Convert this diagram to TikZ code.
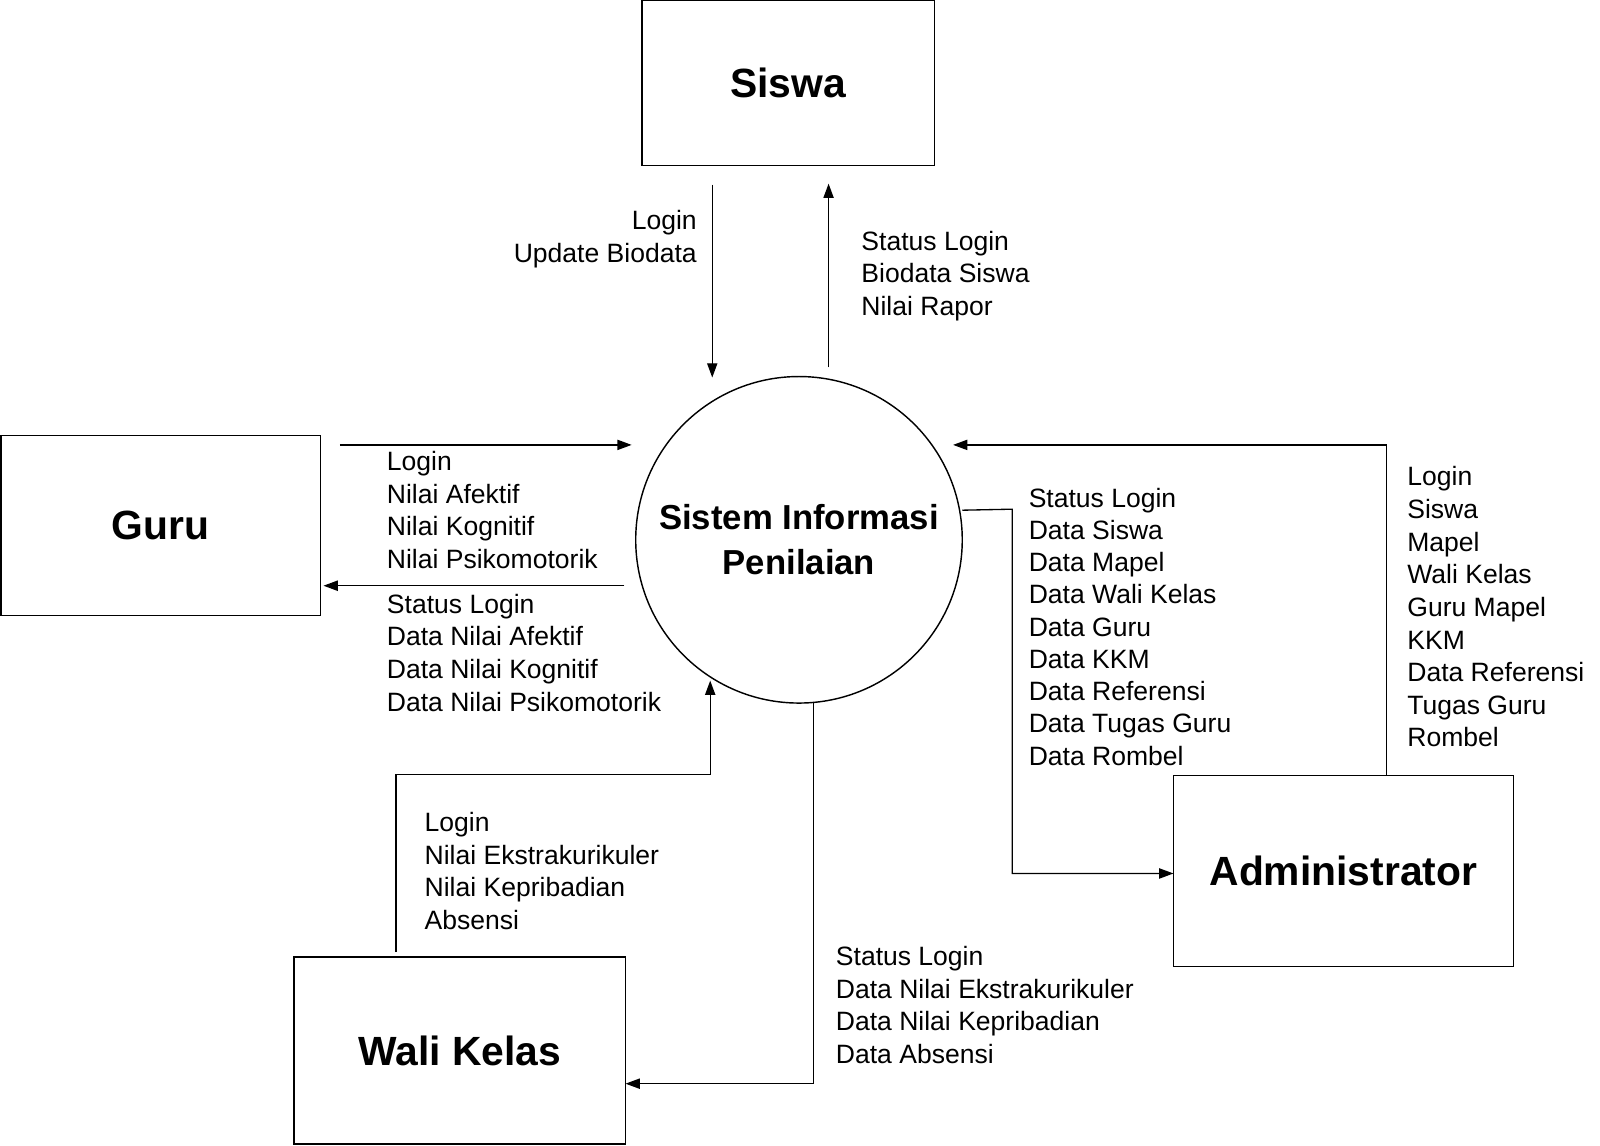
\documentclass[tikz,border=0pt]{standalone}
\usepackage{fontspec}
\setmainfont{Liberation Sans}
\usetikzlibrary{arrows.meta}
\begin{document}
\begin{tikzpicture}[x=1pt,y=-1pt,
  ent/.style={draw,line width=1.4pt,inner sep=0,font=\fontsize{40}{44}\selectfont\bfseries},
  lbl/.style={inner sep=0,align=left,font=\fontsize{26}{32}\selectfont},
  lblr/.style={inner sep=0,align=right,font=\fontsize{26}{32}\selectfont},
  flow/.style={line width=1.3pt,-{Triangle[length=14pt,width=10pt]}}]
\useasboundingbox (0,0) rectangle (1568,1123);
\node[ent,minimum width=287,minimum height=162] (siswa) at (772.5,81) {Siswa};
\node[ent,minimum width=313,minimum height=176] (guru) at (157.5,515) {Guru};
\node[ent,minimum width=325,minimum height=183] (wali) at (450.5,1029.5) {Wali Kelas};
\node[ent,minimum width=333,minimum height=187] (admin) at (1316.5,853.5) {Administrator};
\node[draw,circle,line width=1.4pt,minimum size=320,inner sep=0,align=center,
  font=\fontsize{34}{44}\selectfont\bfseries] (sip) at (783,529) {Sistem Informasi\\Penilaian};

\coordinate (a1) at (698,181); \coordinate (a2) at (698,370);
\draw[flow] (a1) -- (a2);
\node[lblr,anchor=north east] (t1) at (683,206) {Login\\Update Biodata};

\coordinate (b1) at (812,360); \coordinate (b2) at (812,180);
\draw[flow] (b1) -- (b2);
\node[lbl,anchor=north west] (t2) at (844,226) {Status Login\\Biodata Siswa\\Nilai Rapor};

\coordinate (c1) at (333,436); \coordinate (c2) at (619,436);
\draw[flow] (c1) -- (c2);
\node[lbl,anchor=north west] (t3) at (379,442) {Login\\Nilai Afektif\\Nilai Kognitif\\Nilai Psikomotorik};

\coordinate (d1) at (612,574); \coordinate (d2) at (317,574);
\draw[flow] (d1) -- (d2);
\node[lbl,anchor=north west] (t4) at (379,582) {Status Login\\Data Nilai Afektif\\Data Nilai Kognitif\\Data Nilai Psikomotorik};

\coordinate (e1) at (388,933); \coordinate (e2) at (696,667);
\draw[flow] (e1) |- (696,759) -- (e2);
\node[lbl,anchor=north west] (t5) at (416,796) {Login\\Nilai Ekstrakurikuler\\Nilai Kepribadian\\Absensi};

\coordinate (f1) at (797,689); \coordinate (f2) at (613,1062);
\draw[flow] (f1) |- (f2);
\node[lbl,anchor=north west] (t6) at (819,927) {Status Login\\Data Nilai Ekstrakurikuler\\Data Nilai Kepribadian\\Data Absensi};

\coordinate (g1) at (943,500); \coordinate (g2) at (1150,856);
\draw[flow] (g1) -- (992,499) |- (g2);
\node[lbl,anchor=north west,font=\fontsize{26}{31.6}\selectfont] (t7) at (1008,478) {Status Login\\Data Siswa\\Data Mapel\\Data Wali Kelas\\Data Guru\\Data KKM\\Data Referensi\\Data Tugas Guru\\Data Rombel};

\coordinate (h1) at (1359,760); \coordinate (h2) at (934,436);
\draw[flow] (h1) |- (h2);
\node[lbl,anchor=north west] (t8) at (1379,457) {Login\\Siswa\\Mapel\\Wali Kelas\\Guru Mapel\\KKM\\Data Referensi\\Tugas Guru\\Rombel};
\end{tikzpicture}
\end{document}
